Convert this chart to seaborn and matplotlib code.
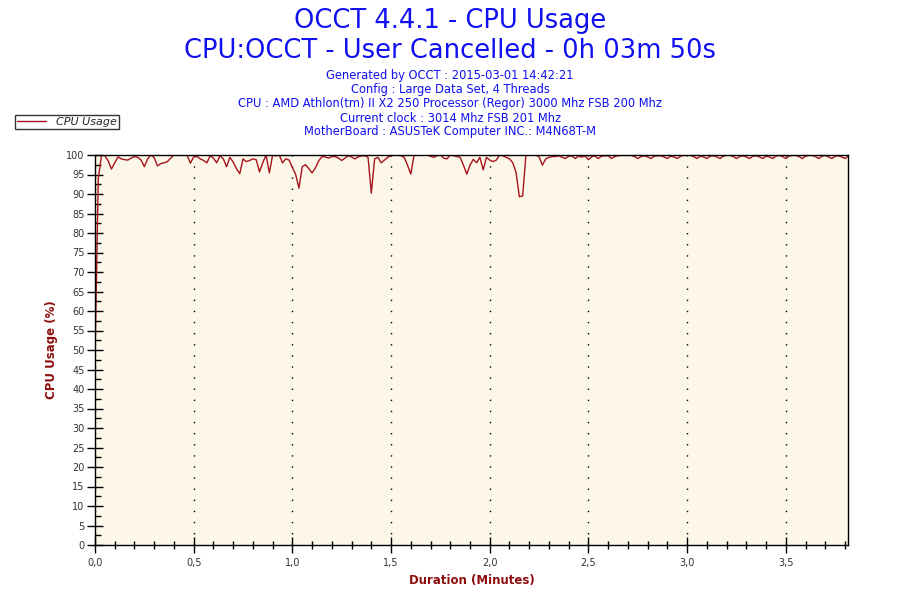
import numpy as np
import pandas as pd
import matplotlib
matplotlib.use("Agg")
import matplotlib.pyplot as plt
from matplotlib.ticker import MultipleLocator, FuncFormatter
from matplotlib.lines import Line2D
import seaborn as sns

title_lines = ["OCCT 4.4.1 - CPU Usage", "CPU:OCCT - User Cancelled - 0h 03m 50s"]
info_lines = [
    "Generated by OCCT : 2015-03-01 14:42:21",
    "Config : Large Data Set, 4 Threads",
    "CPU : AMD Athlon(tm) II X2 250 Processor (Regor) 3000 Mhz FSB 200 Mhz",
    "Current clock : 3014 Mhz FSB 201 Mhz",
    "MotherBoard : ASUSTeK Computer INC.: M4N68T-M",
]
series_name = "CPU Usage"
x_label = "Duration (Minutes)"
y_label = "CPU Usage (%)"

# CPU usage (%) sampled once per second
cpu_usage = [
    48, 94, 100, 99.8, 98.5, 96.4, 98, 99.5, 99, 98.8,
    98.7, 99.2, 99.6, 99.4, 98.7, 97, 99, 100, 99.3, 97.2,
    97.8, 98, 98.3, 99.2, 100, 99.9, 99.9, 100, 99.9, 97.9,
    99.5, 99.6, 99, 98.6, 98, 99.8, 99.2, 98, 99.8, 99,
    97, 99.4, 98.2, 96.5, 95.2, 99, 98.3, 98.6, 99, 98.8,
    95.7, 98, 100, 95.4, 100, 99.8, 100, 98, 99, 98.7,
    96.8, 95, 91.5, 97, 97.5, 96.5, 95.4, 96.7, 98.5, 99.6,
    99.5, 99.2, 99.6, 99.6, 99.2, 98.6, 99.2, 99.8, 99.5, 99,
    99.5, 99.8, 99.8, 99.4, 90.2, 99, 99.4, 98, 98.7, 99.4,
    99.8, 100, 100, 99.8, 99.4, 97.4, 95.1, 100, 100, 100,
    99.9, 100, 99.7, 99.4, 99.8, 100, 99.2, 99, 100, 99.8,
    99.6, 99.4, 97.4, 95.1, 97.4, 98.9, 98, 99.4, 96.2, 99.4,
    98.7, 98.3, 98.7, 100, 99.8, 99.4, 99, 98, 95.5, 89.3,
    89.5, 100, 100, 100, 100, 99.5, 97.4, 99, 99.4, 99.6,
    99.6, 99.8, 99.4, 99.1, 99.7, 99.7, 99.1, 99.7, 99.5, 99.7,
    98.8, 99.6, 99.7, 99.1, 99.7, 99.8, 99.8, 99.1, 99.6, 99.8,
    99.9, 99.9, 99.9, 99.9, 99.6, 99.1, 99.6, 99.8, 99.5, 99.1,
    99.7, 99.8, 99.8, 99.5, 99.1, 99.7, 99.5, 99.1, 99.7, 99.9,
    99.9, 99.9, 99.6, 99.1, 99.7, 99.5, 99.1, 99.7, 99.8, 99.5,
    99.1, 99.7, 99.9, 99.9, 99.6, 99.1, 99.6, 99.8, 99.5, 99.1,
    99.7, 99.8, 99.5, 99.1, 99.7, 99.5, 99.1, 99.7, 99.9, 99.6,
    99.1, 99.7, 99.9, 99.9, 99.6, 99.1, 99.7, 99.9, 99.9, 99.6,
    99.1, 99.7, 99.9, 99.5, 99.1, 99.7, 99.8, 99.5, 99.1, 99.7,
]
sample_seconds = np.arange(len(cpu_usage))
x_max_minutes = 3.815

df = pd.DataFrame({"minutes": sample_seconds / 60.0, "usage": cpu_usage, "series": series_name})

sns.set_style("ticks")
plt.rcParams["font.family"] = ["DejaVu Sans"]

line_color = "#A5141C"
text_blue = "#1010F0"
label_red = "#8E0E0E"
tick_color = "#333333"

fig = plt.figure(figsize=(9, 6), dpi=100, facecolor="white")
ax = fig.add_axes([95 / 900, 1 - 545 / 600, (848 - 95) / 900, (545 - 155) / 600])
ax.set_facecolor("#FDF7E9")

sns.lineplot(data=df, x="minutes", y="usage", hue="series", palette=[line_color],
             linewidth=1.0, ax=ax, legend=False)

ax.set_xlim(0, x_max_minutes)
ax.set_ylim(0, 100)

ax.xaxis.set_major_locator(MultipleLocator(0.5))
ax.xaxis.set_minor_locator(MultipleLocator(0.1))
ax.yaxis.set_major_locator(MultipleLocator(5))
ax.yaxis.set_minor_locator(MultipleLocator(2.5))
ax.xaxis.set_major_formatter(FuncFormatter(lambda v, p: f"{v:.1f}".replace(".", ",")))
ax.yaxis.set_major_formatter(FuncFormatter(lambda v, p: f"{int(round(v))}"))

ax.tick_params(axis="both", which="major", direction="inout", length=11, width=1,
               colors="black", labelcolor=tick_color, labelsize=7)
ax.tick_params(axis="y", which="minor", direction="in", length=4, width=1, colors="black")
ax.tick_params(axis="x", which="minor", direction="inout", length=6, width=1, colors="black")
ax.tick_params(axis="x", which="major", pad=4)
ax.tick_params(axis="y", which="major", pad=2)

for s in ax.spines.values():
    s.set_color("black")
    s.set_linewidth(1)

ax.grid(axis="x", which="major", color="black", linestyle=(0, (1, 7)), linewidth=1)
ax.grid(axis="y", visible=False)

ax.set_xlabel(x_label, color=label_red, fontsize=8.5, fontweight="bold", labelpad=4)
ax.set_ylabel(y_label, color=label_red, fontsize=8.5, fontweight="bold", labelpad=6)

fig.text(0.5, 1 - 21 / 600, title_lines[0], ha="center", va="center", color=text_blue, fontsize=18.5)
fig.text(0.5, 1 - 51 / 600, title_lines[1], ha="center", va="center", color=text_blue, fontsize=18.5)
for i, line in enumerate(info_lines):
    fig.text(0.5, 1 - (76 + 14 * i) / 600, line, ha="center", va="center",
             color=text_blue, fontsize=8.3)

handle = Line2D([], [], color=line_color, linewidth=1)
leg = fig.legend([handle], [series_name], loc="upper left",
                 bbox_to_anchor=(15 / 900, 1 - 115 / 600), frameon=True, fancybox=False,
                 prop={"size": 8, "style": "italic"}, handlelength=2.6,
                 borderpad=0.2, handletextpad=0.9, borderaxespad=0)
leg.get_frame().set_edgecolor("black")
leg.get_frame().set_linewidth(1)

fig.savefig("out.png", dpi=100, facecolor="white")
